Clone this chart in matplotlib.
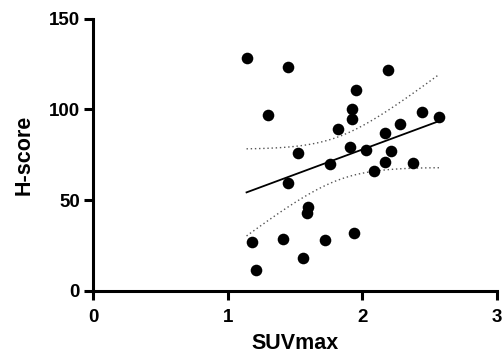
import numpy as np
import matplotlib
matplotlib.use('Agg')
import matplotlib.pyplot as plt

plt.rcParams['font.family'] = ['Liberation Sans', 'DejaVu Sans']
plt.rcParams['font.weight'] = 'bold'

suv = [1.14, 1.45, 2.19, 1.95, 1.30, 1.92, 1.92, 2.44, 2.57, 2.28,
       1.82, 2.17, 1.91, 2.03, 2.21, 1.52, 2.17, 2.38, 1.76, 2.09,
       1.45, 1.60, 1.59, 1.18, 1.41, 1.72, 1.94, 1.56, 1.21]
hscore = [128.2, 123.2, 121.5, 110.9, 96.9, 100.2, 94.8, 98.5, 95.9, 91.7,
          89.4, 87.1, 79.4, 77.4, 77.1, 75.9, 70.9, 70.6, 69.7, 65.8,
          59.3, 46.1, 42.8, 26.7, 28.5, 28.2, 31.9, 18.0, 11.5]

x = np.array(suv)
y = np.array(hscore)
n = len(x)
slope, icpt = np.polyfit(x, y, 1)
xs = np.linspace(x.min(), x.max(), 100)
fit = icpt + slope * xs
resid = y - (icpt + slope * x)
s = np.sqrt(np.sum(resid ** 2) / (n - 2))
sxx = np.sum((x - x.mean()) ** 2)
t = 2.052  # t(0.975, df=27)
half = t * s * np.sqrt(1.0 / n + (xs - x.mean()) ** 2 / sxx)

fig = plt.figure(figsize=(5.03, 3.62), dpi=100)
ax = fig.add_axes([0.185, 0.197, 0.803, 0.751])

ax.scatter(x, y, s=70, color='black', zorder=3, linewidths=0)
ax.plot(xs, fit, color='black', lw=1.3)
ax.plot(xs, fit + half, color='#555555', lw=1.0, ls=(0, (1, 2)))
ax.plot(xs, fit - half, color='#555555', lw=1.0, ls=(0, (1, 2)))

ax.set_xlim(0, 3)
ax.set_ylim(0, 150)
ax.set_xticks([0, 1, 2, 3])
ax.set_yticks([0, 50, 100, 150])
for sp in ['top', 'right']:
    ax.spines[sp].set_visible(False)
for sp in ['left', 'bottom']:
    ax.spines[sp].set_linewidth(2.2)
ax.tick_params(width=2.2, length=6.5, labelsize=13.5)
ax.tick_params(axis='x', pad=7)
ax.tick_params(axis='y', pad=3)
ax.set_xlabel('SUVmax', fontsize=15.5, fontweight='bold', labelpad=5)
ax.set_ylabel('H-score', fontsize=15.5, fontweight='bold', labelpad=10)

fig.savefig('out.png', dpi=100)
